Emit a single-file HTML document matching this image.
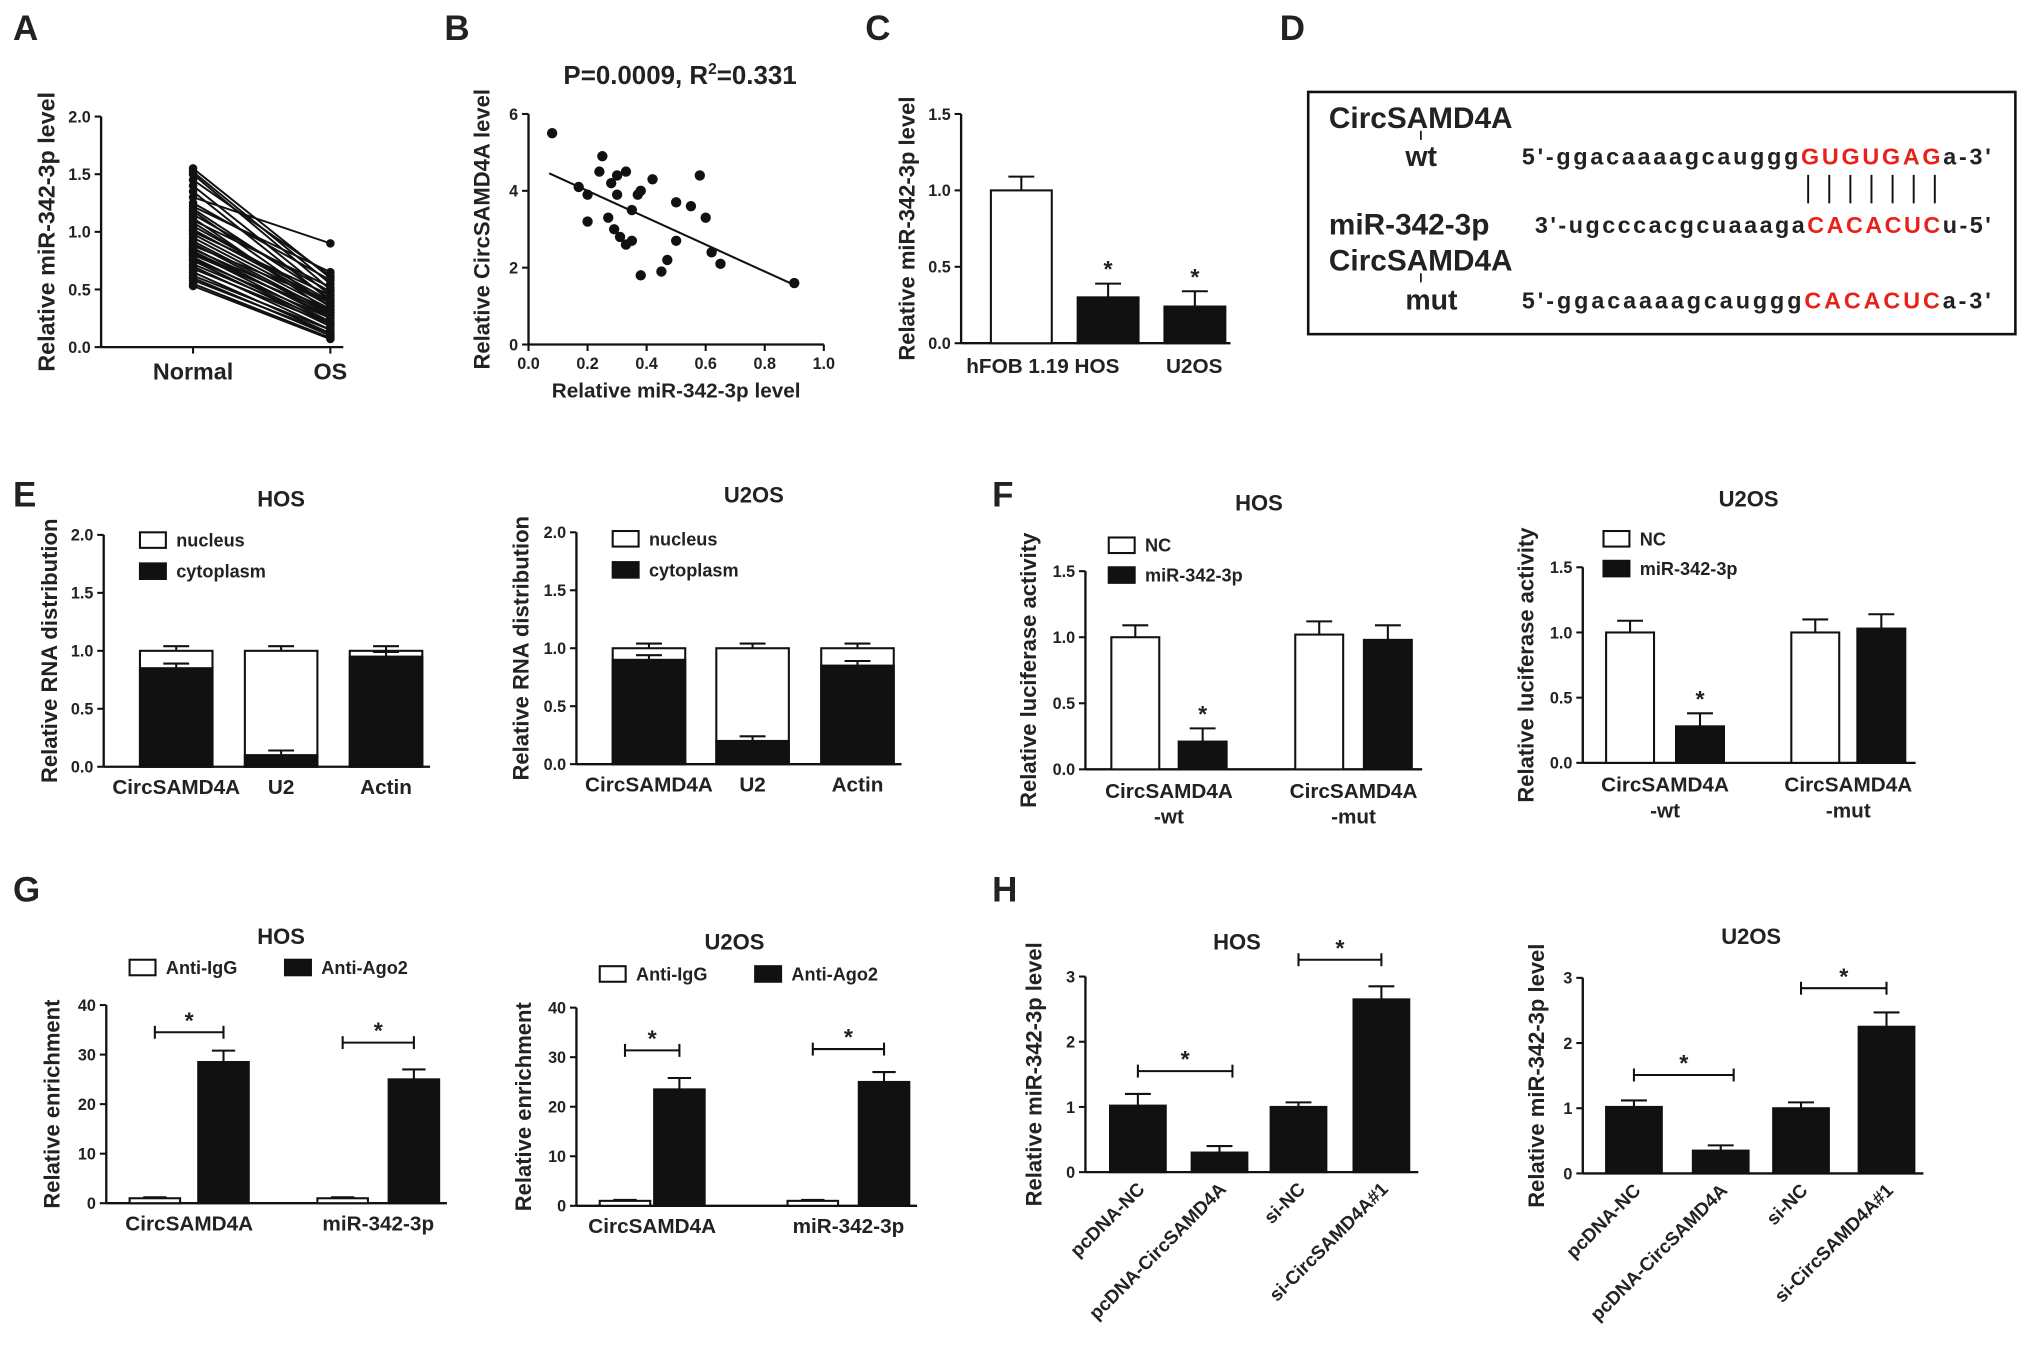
<!DOCTYPE html>
<html><head><meta charset="utf-8"><style>
html,body{margin:0;padding:0;background:#fff}
svg{display:block}
text{font-family:"Liberation Sans",Arial,sans-serif;font-weight:bold;fill:#222}
</style></head><body>
<svg id="fig" width="2031" height="1369" viewBox="0 0 1568 1057" xmlns="http://www.w3.org/2000/svg"></svg>
<script>
// ---- Panel A data ----
const aNormal=[1.55,1.52,1.5,1.45,1.4,1.35,1.3,1.25,1.2,1.18,1.15,1.12,1.1,1.05,1.02,1.0,0.98,0.95,0.92,0.9,0.88,0.86,0.85,0.83,0.82,0.8,0.78,0.76,0.75,0.72,0.7,0.68,0.65,0.62,0.6,0.58,0.55,0.53,1.22,1.08];
const aOS=[0.6,0.55,0.5,0.62,0.45,0.4,0.9,0.58,0.42,0.35,0.48,0.3,0.52,0.4,0.38,0.45,0.36,0.33,0.3,0.28,0.4,0.25,0.32,0.27,0.22,0.3,0.2,0.25,0.18,0.22,0.15,0.2,0.12,0.15,0.1,0.12,0.08,0.07,0.65,0.35];
const aTicks=[0,0.5,1,1.5,2];
// ---- Panel B data ----
const bX=[0.08,0.17,0.2,0.25,0.24,0.28,0.3,0.33,0.3,0.35,0.37,0.38,0.42,0.2,0.29,0.31,0.33,0.35,0.38,0.45,0.47,0.5,0.5,0.55,0.58,0.6,0.62,0.65,0.9,0.27];
const bY=[5.5,4.1,3.9,4.9,4.5,4.2,4.4,4.5,3.9,3.5,3.9,4.0,4.3,3.2,3.0,2.8,2.6,2.7,1.8,1.9,2.2,2.7,3.7,3.6,4.4,3.3,2.4,2.1,1.6,3.3];
const bFit=[4.7,-3.5];
const bXTicks=[0,0.2,0.4,0.6,0.8,1.0];
const bYTicks=[0,2,4,6];
// ---- Panel C ----
const cCats=["hFOB 1.19","HOS","U2OS"];
const cVals=[1.0,0.3,0.24];
const cErr=[0.09,0.09,0.1];
// ---- Panel E ----
const eCats=["CircSAMD4A","U2","Actin"];
const eHosCyto=[0.85,0.1,0.95];
const eU2osCyto=[0.9,0.2,0.85];
// ---- Panel F ----
const fHosNC=[1.0,1.02];
const fHosMiR=[0.21,0.98];
const fU2osNC=[1.0,1.0];
const fU2osMiR=[0.28,1.03];
// ---- Panel G ----
const gHosIgG=[1,1];
const gHosAgo=[28.5,25];
const gU2osIgG=[1,1];
const gU2osAgo=[23.5,25];
// ---- Panel H ----
const hCats=["pcDNA-NC","pcDNA-CircSAMD4A","si-NC","si-CircSAMD4A#1"];
const hHos=[1.02,0.3,1.0,2.65];
const hHosErr=[0.18,0.1,0.07,0.2];
const hU2os=[1.02,0.35,1.0,2.25];
const hU2osErr=[0.1,0.08,0.09,0.22];

const svg=document.getElementById('fig');
const NS='http://www.w3.org/2000/svg';
function mk(tag,at,parent){const e=document.createElementNS(NS,tag);for(const k in at)e.setAttribute(k,at[k]);(parent||svg).appendChild(e);return e;}
function txt(x,y,s,size,anchor,parent,rot){const t=mk('text',{x:x,y:y,'font-size':size,'text-anchor':anchor||'middle'},parent);if(rot)t.setAttribute('transform','rotate('+rot+' '+x+' '+y+')');t.textContent=s;return t;}
function ln(x1,y1,x2,y2,w,parent){return mk('line',{x1:x1,y1:y1,x2:x2,y2:y2,stroke:'#111','stroke-width':w||1.6},parent);}

[["A",10,31],["B",343,31],["C",668,31],["D",988,31],["E",10,391],["F",766,391],["G",10,696],["H",766,696]].forEach(l=>{
 const t=txt(l[1],l[2],l[0],27,'start');
 
 
});

function yAxis(g,x,y0,y1,vmax,ticks,fmt,yl,ylx,ylsize){
 const sy=v=>y0-(y0-y1)*v/vmax;
 ln(x,y0,x,y1,1.8,g);
 ticks.forEach(v=>{ln(x-5,sy(v),x,sy(v),1.6,g);const t=txt(x-8,sy(v)+4.5,fmt(v),12.5,'end',g);
  
  });
 const lab=txt(ylx,(y0+y1)/2,yl,ylsize||17,'middle',g,-90);
 
 
 return sy;
}
function errBar(g,cx,y,yTop,w){ln(cx,y,cx,yTop,1.6,g);ln(cx-w,yTop,cx+w,yTop,1.6,g);}
function star(g,x,y){const t=txt(x,y,'*',18,'middle',g);
 
 }
function bracket(g,x1,x2,y){ln(x1,y,x2,y,1.6,g);ln(x1,y-5,x1,y+5,1.6,g);ln(x2,y-5,x2,y+5,1.6,g);star(g,(x1+x2)/2,y-3);}

// ===== Panel A =====
(function(){
 const g=mk('g',{});
 
 
 const sy=yAxis(g,78,268,90,2,aTicks,v=>v.toFixed(1),'Relative  miR-342-3p level',42,18);
 ln(78,268,265,268,1.8,g);
 const xN=149,xO=255;
 ln(xN,268,xN,273,1.6,g);ln(xO,268,xO,273,1.6,g);
 aNormal.forEach((v,i)=>{
  const l=mk('line',{x1:xN,y1:sy(v),x2:xO,y2:sy(aOS[i]),stroke:'#111','stroke-width':1.5},g);
  
  
  mk('circle',{cx:xN,cy:sy(v),r:3.3,fill:'#111'},g);
  mk('circle',{cx:xO,cy:sy(aOS[i]),r:3.3,fill:'#111'},g);
 });
 let t=txt(xN,293,'Normal',18,'middle',g);
 
 
 t=txt(xO,293,'OS',18,'middle',g);
 
 
})();

// ===== Panel B =====
(function(){
 const g=mk('g',{});
 
 
 const x0=408,x1=636;
 const sx=v=>x0+(x1-x0)*v/1.0;
 const sy=yAxis(g,x0,266,88,6,bYTicks,v=>String(v),'Relative  CircSAMD4A level',378,17);
 ln(x0,266,x1,266,1.8,g);
 bXTicks.forEach(v=>{ln(sx(v),266,sx(v),271,1.6,g);const t=txt(sx(v),285,v.toFixed(1),12.5,'middle',g);
  
  });
 bX.forEach((v,i)=>{const c=mk('circle',{cx:sx(v),cy:sy(bY[i]),r:4,fill:'#111'},g);
  
  });
 const fl=mk('line',{x1:sx(0.07),y1:sy(bFit[0]+bFit[1]*0.07),x2:sx(0.9),y2:sy(bFit[0]+bFit[1]*0.9),stroke:'#111','stroke-width':1.6},g);
 
 
 let t=txt(522,307,'Relative miR-342-3p level',16,'middle',g);
 
 
 t=mk('text',{x:525,y:65,'font-size':20,'text-anchor':'middle'},g);
 t.innerHTML='P=0.0009, R<tspan font-size="12" dy="-8">2</tspan><tspan dy="8">=0.331</tspan>';
 
 
})();

// ===== Panel C =====
(function(){
 const g=mk('g',{});
 
 
 const sy=yAxis(g,742,265,88,1.5,[0,0.5,1,1.5],v=>v.toFixed(1),'Relative  miR-342-3p level',706,17);
 ln(742,265,950,265,1.8,g);
 const xs=[765,832,899],w=47;
 cVals.forEach((v,i)=>{
  errBar(g,xs[i]+w/2,sy(v),sy(v+cErr[i]),10);
  const r=mk('rect',{x:xs[i],y:sy(v),width:w,height:265-sy(v),fill:i==0?'#fff':'#111',stroke:'#111','stroke-width':1.6},g);
  
  
  if(i>0)star(g,xs[i]+w/2,sy(v+cErr[i])-5);
 });
 let t=txt(746,288,'hFOB 1.19 HOS',16,'start',g);
 
 
 t=txt(922,288,'U2OS',16,'middle',g);
 
 
})();

// ===== Panel D =====
(function(){
 const g=mk('g',{});
 
 
 mk('rect',{x:1010,y:71,width:546,height:187,fill:'#fff',stroke:'#111','stroke-width':2},g);
 function seq(x,y,a,red,b,nm,len){const t=mk('text',{x:x,y:y,'font-size':18,textLength:len,lengthAdjust:'spacing'},g);
  t.innerHTML=a+'<tspan fill="#e8221b" style="fill:#e8221b">'+red+'</tspan>'+b;
  
  }
 let t=txt(1026,99,'CircSAMD4A',23,'start',g);
 ln(1097,101,1097,108,1.3,g);
 t=txt(1085,128,'wt',22,'start',g);
 seq(1175,127,"5'-ggacaaaagcauggg","GUGUGAG","a-3'",'seq-wt',362);
 for(let i=0;i<7;i++)ln(1396+i*16.3,135,1396+i*16.3,157,1.5,g);
 t=txt(1026,181,'miR-342-3p',23,'start',g);
 seq(1185,180,"3'-ugcccacgcuaaaga","CACACUC","u-5'",'seq-mir',352);
 t=txt(1026,209,'CircSAMD4A',23,'start',g);
 ln(1097,211,1097,218,1.3,g);
 t=txt(1085,239,'mut',22,'start',g);
 seq(1175,238,"5'-ggacaaaagcauggg","CACACUC","a-3'",'seq-mut',362);
})();

function legend(g,x,y,labels,gap,horiz){
 labels.forEach((s,i)=>{
  const lx=horiz?x+i*gap:x, ly=horiz?y:y+i*gap;
  const r=mk('rect',{x:lx,y:ly-11,width:20,height:12,fill:i==0?'#fff':'#111',stroke:'#111','stroke-width':1.6},g);
  
  
  const t=txt(lx+28,ly,s,14,'start',g);
  
  
 });
}

// ===== Panel E =====
function panelE(nm,ax,y0,y1,xs,cyto,title,tx,ty,lx,ly,ylx){
 const g=mk('g',{});
 
 
 const sy=yAxis(g,ax,y0,y1,2,[0,0.5,1,1.5,2],v=>v.toFixed(1),'Relative RNA distribution',ylx,17);
 ln(ax,y0,xs[2]+62,y0,1.8,g);
 const w=56;
 cyto.forEach((v,i)=>{
  errBar(g,xs[i]+w/2,sy(1),sy(1.04),10);
  const r=mk('rect',{x:xs[i],y:sy(1),width:w,height:y0-sy(1),fill:'#fff',stroke:'#111','stroke-width':1.6},g);
  
  
  errBar(g,xs[i]+w/2,sy(v),sy(v+0.04),10);
  const c=mk('rect',{x:xs[i],y:sy(v),width:w,height:y0-sy(v),fill:'#111',stroke:'#111','stroke-width':1.6},g);
  
  
  const t=txt(xs[i]+w/2,y0+21,eCats[i],16,'middle',g);
  
  
 });
 const t=txt(tx,ty,title,17,'middle',g);
 
 
 legend(g,lx,ly,['nucleus','cytoplasm'],24,false);
}
panelE('panel-e-hos',80,592,413,[108,189,270],eHosCyto,'HOS',217,391,108,422,44);
panelE('panel-e-u2os',445,590,411,[473,553,634],eU2osCyto,'U2OS',582,388,473,421,408);

// ===== Panel F =====
function panelF(nm,ax,y0,y1,xs,nc,mir,title,tx,ty,lx,ly,ylx){
 const g=mk('g',{});
 
 
 const sy=yAxis(g,ax,y0,y1,1.5,[0,0.5,1,1.5],v=>v.toFixed(1),'Relative luciferase activity',ylx,17);
 ln(ax,y0,xs[3]+45,y0,1.8,g);
 const w=37, vals=[nc[0],mir[0],nc[1],mir[1]], errs=[0.09,0.1,0.1,0.11];
 vals.forEach((v,i)=>{
  errBar(g,xs[i]+w/2,sy(v),sy(v+errs[i]),10);
  const r=mk('rect',{x:xs[i],y:sy(v),width:w,height:y0-sy(v),fill:i%2==0?'#fff':'#111',stroke:'#111','stroke-width':1.6},g);
  
  
 });
 star(g,xs[1]+w/2,sy(vals[1]+errs[1])-5);
 [[(xs[0]+xs[1]+w)/2,'-wt'],[(xs[2]+xs[3]+w)/2,'-mut']].forEach(p=>{
  let t=txt(p[0],y0+22,'CircSAMD4A',16,'middle',g);
  
  
  t=txt(p[0],y0+42,p[1],16,'middle',g);
  
  
 });
 const t=txt(tx,ty,title,17,'middle',g);
 
 
 legend(g,lx,ly,['NC','miR-342-3p'],23,false);
}
panelF('panel-f-hos',838,594,441,[858,910,1000,1053],fHosNC,fHosMiR,'HOS',972,394,856,426,800);
panelF('panel-f-u2os',1222,589,438,[1240,1294,1383,1434],fU2osNC,fU2osMiR,'U2OS',1350,391,1238,421,1184);

// ===== Panel G =====
function panelG(nm,ax,y0,y1,xs,igg,ago,br,title,tx,ty,ly,ylx){
 const g=mk('g',{});
 
 
 const sy=yAxis(g,ax,y0,y1,40,[0,10,20,30,40],v=>String(v),'Relative enrichment',ylx,17);
 ln(ax,y0,xs[3]+45,y0,1.8,g);
 const w=39, vals=[igg[0],ago[0],igg[1],ago[1]], errs=[0.2,2.3,0.2,2.0];
 vals.forEach((v,i)=>{
  errBar(g,xs[i]+w/2,sy(v),sy(v+errs[i]),9);
  const r=mk('rect',{x:xs[i],y:sy(v),width:w,height:y0-sy(v),fill:i%2==0?'#fff':'#111',stroke:'#111','stroke-width':1.6},g);
  
  
 });
 bracket(g,xs[0]+w/2,xs[1]+w/2,br[0]);
 bracket(g,xs[2]+w/2,xs[3]+w/2,br[1]);
 [['CircSAMD4A',(xs[0]+xs[1]+w)/2],['miR-342-3p',(xs[2]+xs[3]+w)/2]].forEach(p=>{
  const t=txt(p[1],y0+21,p[0],16,'middle',g);
  
  
 });
 const t=txt(tx,ty,title,17,'middle',g);
 
 
 legend(g,xs[0],ly,['Anti-IgG','Anti-Ago2'],120,true);
}
panelG('panel-g-hos',82,929,776,[100,153,245,300],gHosIgG,gHosAgo,[797,805],'HOS',217,729,752,46);
panelG('panel-g-u2os',445,931,778,[463,505,608,663],gU2osIgG,gU2osAgo,[811,810],'U2OS',567,733,757,410);

// ===== Panel H =====
function panelH(nm,ax,y0,y1,xs,vals,errs,br,title,tx,ty,ylx){
 const g=mk('g',{});
 
 
 const sy=yAxis(g,ax,y0,y1,3,[0,1,2,3],v=>String(v),'Relative miR-342-3p level',ylx,17);
 ln(ax,y0,xs[3]+50,y0,1.8,g);
 const w=43;
 vals.forEach((v,i)=>{
  errBar(g,xs[i]+w/2,sy(v),sy(v+errs[i]),10);
  const r=mk('rect',{x:xs[i],y:sy(v),width:w,height:y0-sy(v),fill:'#111',stroke:'#111','stroke-width':1.6},g);
  
  
  const cx=xs[i]+w/2+6, cy=y0+14;
  const t=txt(cx,cy,hCats[i],14.5,'end',g,-45);
  
  
 });
 bracket(g,xs[0]+w/2,xs[1]+w/2+10,br[0]);
 bracket(g,xs[2]+w/2,xs[3]+w/2,br[1]);
 const t=txt(tx,ty,title,17,'middle',g);
 
 
}
panelH('panel-h-hos',838,905,754,[857,920,981,1045],hHos,hHosErr,[827,741],'HOS',955,733,804);
panelH('panel-h-u2os',1222,906,755,[1240,1307,1369,1435],hU2os,hU2osErr,[830,763],'U2OS',1352,729,1192);
</script>
</body></html>
